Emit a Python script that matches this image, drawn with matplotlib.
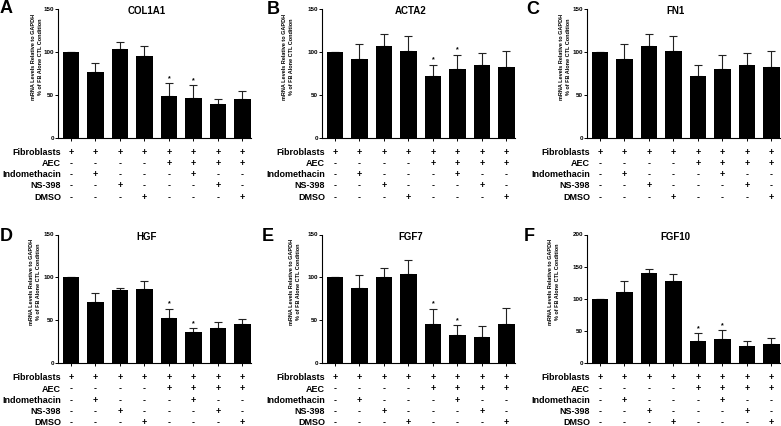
import numpy as np
import matplotlib
matplotlib.use("Agg")
from matplotlib import pyplot as plt
from matplotlib import transforms

plt.rcParams['font.family'] = ['Liberation Sans', 'DejaVu Sans']
plt.rcParams['font.weight'] = 'bold'

genes = ['COL1A1', 'ACTA2', 'FN1', 'HGF', 'FGF7', 'FGF10']
letters = ['A', 'B', 'C', 'D', 'E', 'F']

col1a1_mean = [100, 76, 103.5, 94.6, 48.8, 46.5, 39.1, 44.6]
col1a1_err = [0, 10.4, 8.1, 12.0, 14.4, 14.4, 6.2, 9.3]
acta2_mean = [100, 91.1, 106.6, 101.2, 71.7, 80.2, 84.1, 81.8]
acta2_err = [0, 18.6, 13.9, 17.4, 13.2, 16.3, 14.7, 19.4]
fn1_mean = [100, 91.1, 106.6, 101.2, 71.7, 80.2, 84.1, 81.8]
fn1_err = [0, 18.6, 13.9, 17.4, 13.2, 16.3, 14.7, 19.4]
hgf_mean = [100, 71.3, 85.7, 86.8, 53.1, 35.7, 40.7, 45.0]
hgf_err = [0, 10.9, 2.3, 8.5, 10.5, 5.0, 7.0, 6.9]
fgf7_mean = [100, 87.6, 100, 104.3, 46.1, 32.6, 30.6, 45.7]
fgf7_err = [0, 15.5, 11.2, 16.2, 17.1, 11.2, 12.4, 18.6]
fgf10_mean = [100, 109.8, 139.4, 127.5, 33.7, 36.8, 25.9, 29.0]
fgf10_err = [0, 18.2, 6.7, 10.3, 12.4, 14.0, 8.8, 9.3]

# bars marked with * (index), per panel
stars = [[4, 5], [4, 5], [], [4, 5], [4, 5], [4, 5]]
ymax = [150, 150, 150, 150, 150, 200]

row_labels = ['Fibroblasts', 'AEC', 'Indomethacin', 'NS-398', 'DMSO']
fibroblasts = ['+', '+', '+', '+', '+', '+', '+', '+']
aec = ['-', '-', '-', '-', '+', '+', '+', '+']
indomethacin = ['-', '+', '-', '-', '-', '+', '-', '-']
ns398 = ['-', '-', '+', '-', '-', '-', '+', '-']
dmso = ['-', '-', '-', '+', '-', '-', '-', '+']

means = [col1a1_mean, acta2_mean, fn1_mean, hgf_mean, fgf7_mean, fgf10_mean]
errs = [col1a1_err, acta2_err, fn1_err, hgf_err, fgf7_err, fgf10_err]
table = [fibroblasts, aec, indomethacin, ns398, dmso]

W, H = 781, 426
fig = plt.figure(figsize=(W / 100, H / 100), dpi=100)

lefts = [58, 322, 587]
tops = [9, 234.5]
bottoms = [137.5, 363]
letter_pos = [(0, 0), (267, 1), (526, 1), (0, 228), (262, 228), (524, 228)]
# y label centre, px left of the y axis
ylab_off = [21, 34, 22, 23, 27, 33]
axw = 193

for k in range(6):
    r, c = divmod(k, 3)
    l, t, b = lefts[c], tops[r], bottoms[r]
    axh = b - t
    ax = fig.add_axes([l / W, 1 - b / H, axw / W, axh / H])
    x = np.arange(8)
    m = np.array(means[k])
    e = np.array(errs[k])
    ax.errorbar(x, m, yerr=[np.zeros(8), e], fmt='none', ecolor='#222222',
                elinewidth=0.8, capsize=2.9, capthick=0.8, zorder=1)
    ax.bar(x, m, width=0.68, color='black', zorder=2)
    for i in stars[k]:
        ax.text(i, m[i] + e[i] + ymax[k] * 0.01, '*', ha='center', va='bottom',
                fontsize=5)
    ax.set_xlim(-0.53, 7.35)
    ax.set_ylim(0, ymax[k])
    ax.set_yticks(np.arange(0, ymax[k] + 1, 50))
    ax.set_xticks(x)
    ax.set_xticklabels([])
    ax.tick_params(axis='both', direction='out', length=2, width=0.7,
                   labelsize=4.5, pad=1)
    for lab in ax.get_yticklabels():
        lab.set_fontweight('bold')
    for s in ['top', 'right']:
        ax.spines[s].set_visible(False)
    for s in ['left', 'bottom']:
        ax.spines[s].set_linewidth(0.8)

    ax.text(0.46, 1 - 2.5 / axh, genes[k], transform=ax.transAxes,
            ha='center', va='center', fontsize=7, fontweight='bold')
    ax.text(-ylab_off[k] / axw, 0.63,
            'mRNA Levels Relative to GAPDH\n% of FB Alone CTL Condition',
            transform=ax.transAxes, rotation=90, ha='center', va='center',
            fontsize=4, fontweight='bold', linespacing=1.35)

    trans = transforms.blended_transform_factory(ax.transData, ax.transAxes)
    for j, lab in enumerate(row_labels):
        yy = -(14.8 + j * 11.2) / axh
        ax.text(3 / axw, yy, lab, transform=ax.transAxes, ha='right',
                va='center', fontsize=6.5, fontweight='bold', clip_on=False)
        for i, sym in enumerate(table[j]):
            ax.text(i, yy, sym, transform=trans, ha='center', va='center',
                    fontsize=6.5, fontweight='bold', clip_on=False)

    lx, ly = letter_pos[k]
    fig.text(lx / W, 1 - ly / H, letters[k], ha='left', va='top',
             fontsize=13, fontweight='bold')

fig.savefig('out.png', dpi=100, facecolor='white')
